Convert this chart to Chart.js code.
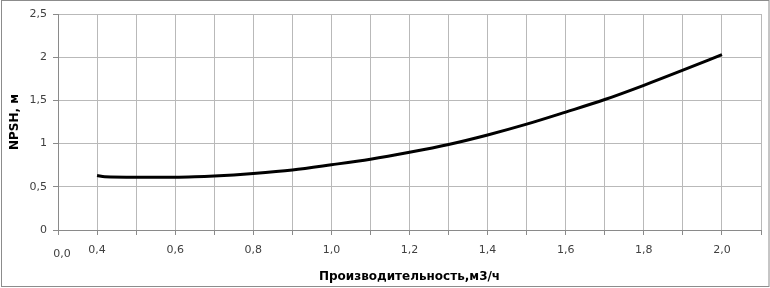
<!DOCTYPE html>
<html>
<head>
<meta charset="utf-8">
<script src="https://cdn.jsdelivr.net/npm/chart.js@4"></script>
<style>
  body { margin: 0; background: #fff; }
  #wrap { width: 770px; height: 288px; position: relative; }
</style>
</head>
<body>
<div id="wrap"><canvas id="npsh-chart"></canvas></div>
<script>
// Data
const flowValues = [0.4, 0.42, 0.5, 0.6, 0.65, 0.7, 0.8, 0.9, 1.0, 1.1, 1.2, 1.3, 1.4, 1.5, 1.6, 1.7, 1.8, 1.9, 2.0];
const npshValues = [0.63, 0.615, 0.61, 0.61, 0.615, 0.625, 0.655, 0.695, 0.755, 0.82, 0.9, 0.99, 1.1, 1.225, 1.365, 1.51, 1.675, 1.85, 2.03];
const xTitle = 'Производительность,м3/ч';
const yTitle = 'NPSH, м';
const originLabel = '0,0';

const points = flowValues.map(function(x, i){ return { x: x, y: npshValues[i] } });

const gridColor = '#b9b9b9';
const axisColor = '#8a8a8a';
const textColor = '#404040';

// frame round the picture + the odd "0,0" label at the axis origin
const extras = {
  id: 'extras',
  afterDraw: function(chart){
    const ctx = chart.ctx
    const xs = chart.scales.x
    ctx.save()
    ctx.fillStyle = textColor
    ctx.font = '11px "DejaVu Sans"'
    ctx.textAlign = 'center'
    ctx.textBaseline = 'middle'
    ctx.fillText(originLabel, xs.getPixelForValue(xs.min) + 4, 254)
    ctx.strokeStyle = '#8c8c8c'
    ctx.lineWidth = 1
    ctx.strokeRect(1.5, 0.5, chart.width - 2.5, chart.height - 2)
    ctx.restore()
  }
}

new Chart(document.getElementById('npsh-chart'), {
  type: 'line',
  data: {
    datasets: [{
      data: points,
      borderColor: '#000',
      borderWidth: 3,
      pointRadius: 0,
      cubicInterpolationMode: 'monotone',
      fill: false
    }]
  },
  options: {
    responsive: true,
    maintainAspectRatio: false,
    animation: false,
    layout: { padding: { top: 14, right: 7, left: 2, bottom: 0 } },
    plugins: { legend: { display: false }, tooltip: { enabled: false } },
    scales: {
      x: {
        type: 'linear',
        min: 0.3,
        max: 2.1,
        afterFit: function(s){ s.height = 58 },
        border: { color: axisColor },
        grid: { color: gridColor, tickLength: 5, tickColor: axisColor },
        ticks: {
          stepSize: 0.1,
          autoSkip: false,
          maxRotation: 0,
          padding: 9,
          color: textColor,
          font: { family: 'DejaVu Sans', size: 11 },
          callback: function(v){
            const k = Math.round(v * 10)
            return k % 2 === 0 ? (k / 10).toFixed(1).replace('.', ',') : ''
          }
        },
        title: {
          display: true,
          text: xTitle,
          color: '#000',
          font: { family: 'DejaVu Sans', size: 12, weight: 'bold' },
          padding: { top: 7 }
        }
      },
      y: {
        min: 0,
        max: 2.5,
        afterFit: function(s){ s.width = 56 },
        border: { color: axisColor },
        grid: { color: gridColor, tickLength: 5, tickColor: axisColor },
        ticks: {
          stepSize: 0.5,
          padding: 6,
          color: textColor,
          font: { family: 'DejaVu Sans', size: 11 },
          callback: function(v){ return String(v).replace('.', ',') }
        },
        title: {
          display: true,
          text: yTitle,
          color: '#000',
          font: { family: 'DejaVu Sans', size: 12, weight: 'bold' },
          padding: { top: 6, bottom: 0 }
        }
      }
    }
  },
  plugins: [extras]
});
</script>
</body>
</html>
